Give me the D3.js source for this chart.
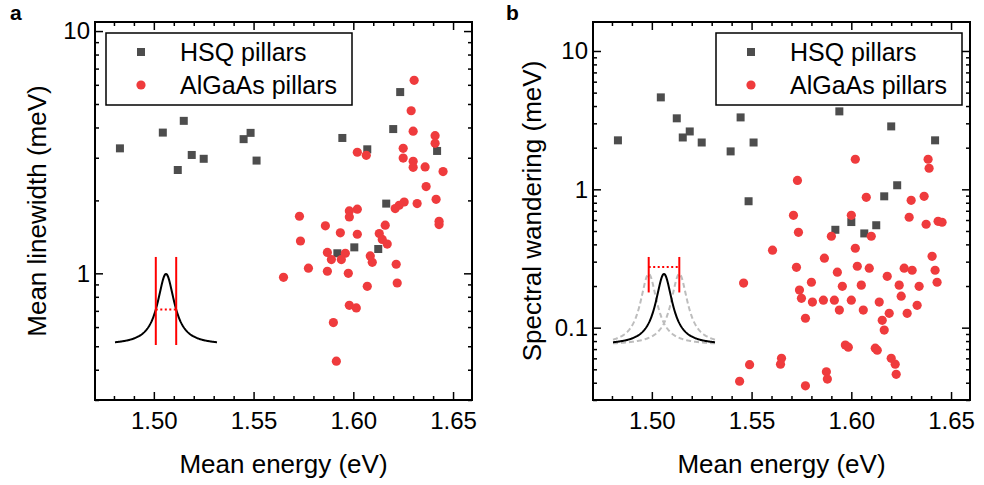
<!DOCTYPE html>
<html>
<head>
<meta charset="utf-8">
<script src="https://cdn.jsdelivr.net/npm/d3@7"></script>
<style>
  body { margin: 0; background: #fff; }
  svg text { font-family: "Liberation Sans", Arial, sans-serif; }
</style>
</head>
<body>
<div id="chart"></div>
<script>
// panel a : mean linewidth (meV) vs mean energy (eV)
var hsqEnergyA = [1.483, 1.5045, 1.512, 1.515, 1.519, 1.525, 1.545, 1.5485, 1.5515, 1.592, 1.5945, 1.6005,
    1.607, 1.6125, 1.6165, 1.620, 1.6235, 1.642];
var hsqLinewidth = [3.28, 3.81, 2.67, 4.26, 3.08, 2.97, 3.58, 3.80, 2.92, 1.21, 3.62, 1.28,
    3.25, 1.26, 1.94, 3.94, 5.60, 3.20];

var algaasEnergyA = [1.6305, 1.629, 1.630, 1.641, 1.641, 1.625, 1.602, 1.6065, 1.625, 1.630, 1.630, 1.636,
    1.645, 1.6365, 1.6415, 1.6255, 1.632, 1.623, 1.621, 1.602, 1.598, 1.598, 1.573, 1.586, 1.616,
    1.643, 1.643, 1.5935, 1.602, 1.613, 1.6145, 1.617, 1.5735, 1.587, 1.596, 1.589, 1.594, 1.6085,
    1.6095, 1.5775, 1.587, 1.5975, 1.6215, 1.565, 1.607, 1.622, 1.598, 1.6015, 1.590, 1.5915];
var algaasLinewidth = [6.26, 4.69, 3.86, 3.70, 3.44, 3.28, 3.16, 3.07, 2.99, 2.90, 2.74, 2.75,
    2.63, 2.28, 2.02, 1.97, 1.94, 1.91, 1.85, 1.84, 1.81, 1.71, 1.72, 1.57, 1.58,
    1.64, 1.59, 1.47, 1.45, 1.46, 1.38, 1.32, 1.36, 1.22, 1.21, 1.14, 1.14, 1.18,
    1.11, 1.05, 1.02, 1.00, 1.09, 0.963, 0.884, 0.912, 0.738, 0.720, 0.626, 0.434];

// panel b : spectral wandering (meV) vs mean energy (eV)
var hsqEnergyB = [1.483, 1.5045, 1.5125, 1.5155, 1.519, 1.525, 1.5395, 1.5445, 1.551, 1.5485,
    1.594, 1.592, 1.600, 1.6065, 1.6125, 1.6165, 1.620, 1.623, 1.642];
var hsqWandering = [2.26, 4.62, 3.26, 2.37, 2.62, 2.18, 1.88, 3.31, 2.18, 0.82,
    3.66, 0.51, 0.58, 0.48, 0.55, 0.89, 2.85, 1.07, 2.26];

var algaasEnergyB = [1.546, 1.544, 1.549, 1.5605, 1.565, 1.5645, 1.571, 1.573, 1.5735, 1.5725,
    1.574, 1.575, 1.577, 1.577, 1.580, 1.5805, 1.5865, 1.586, 1.5875, 1.588,
    1.590, 1.5915, 1.593, 1.594, 1.5955, 1.597, 1.5985, 1.600, 1.600, 1.602,
    1.602, 1.603, 1.605, 1.606, 1.6075, 1.609, 1.610, 1.612, 1.613, 1.614,
    1.6155, 1.6165, 1.618, 1.619, 1.620, 1.622, 1.6225, 1.624, 1.625, 1.6265,
    1.628, 1.629, 1.630, 1.6305, 1.633, 1.634, 1.6365, 1.6375, 1.6385, 1.639,
    1.6405, 1.642, 1.643, 1.6435, 1.6455];
var algaasWandering = [0.21, 0.041, 0.054, 0.363, 0.060, 0.0545, 0.649, 1.16, 0.489, 0.273,
    0.187, 0.163, 0.117, 0.038, 0.213, 0.153, 0.318, 0.158, 0.048, 0.0425,
    0.458, 0.158, 0.252, 0.134, 0.199, 0.0748, 0.0723, 0.158, 0.649, 1.65,
    0.375, 0.278, 0.203, 0.134, 0.875, 0.269, 0.458, 0.0711, 0.0688, 0.153,
    0.113, 0.096, 0.235, 0.127, 0.060, 0.0545, 0.046, 0.203, 0.169, 0.269,
    0.127, 0.628, 0.833, 0.260, 0.145, 0.199, 0.890, 0.559, 1.65, 1.42,
    0.328, 0.260, 0.213, 0.587, 0.578];

var energyTicks = [1.50, 1.55, 1.60, 1.65];
var linewidthTicks = [1, 10];
var wanderingTicks = [0.1, 1, 10];
var legendLabels = ["HSQ pillars", "AlGaAs pillars"];

var HSQ_COLOR = "#4d4d4d",
    ALGAAS_COLOR = "#ef3b3d",
    FONT_TICK = 24,
    FONT_TITLE = 26;

var svg = d3.select("#chart").append("svg")
    .attr("width", 984)
    .attr("height", 485);

var top_ = 22, bottom = 400, panelWidth = 377;

// minor ticks of a log axis : 2..9 x 10^k inside the domain
function logMinor(domain, majors) {
    var out = [];
    for (var k = -3; k <= 2; k++) {
        for (var m = 2; m <= 9; m++) {
            var v = m * Math.pow(10, k);
            if (v >= domain[0] && v <= domain[1] && majors.indexOf(v) < 0) out.push(v);
        }
    }
    return out;
}

function styleAxis(sel) {
    sel.select(".domain").remove();
    sel.selectAll(".tick line").attr("stroke", "#000").attr("stroke-width", 1.5);
    sel.selectAll(".tick text").attr("fill", "#000");
    sel.attr("font-size", FONT_TICK).attr("font-family", "Liberation Sans, Arial, sans-serif");
}

function drawPanel(p) {
    var g = svg.append("g");
    var right = p.left + panelWidth;

    var x = d3.scaleLinear()
        .domain([1.4705, 1.6595])
        .range([p.left, right]);
    var y = d3.scaleLog()
        .domain(p.yDomain)
        .range([bottom, top_]);

    var minorX = d3.range(147, 166).map(function (d) { return d / 100; })
        .filter(function (d) { return d >= x.domain()[0] && energyTicks.indexOf(d) < 0; });
    var minorY = logMinor(p.yDomain, p.yTicks);

    // bottom / top
    g.append("g").attr("transform", "translate(0," + bottom + ")")
        .call(d3.axisBottom(x).tickValues(energyTicks).tickSize(-8).tickPadding(12).tickFormat(d3.format(".2f")))
        .call(styleAxis);
    g.append("g").attr("transform", "translate(0," + bottom + ")")
        .call(d3.axisBottom(x).tickValues(minorX).tickSize(-4).tickFormat(""))
        .call(styleAxis);
    g.append("g").attr("transform", "translate(0," + top_ + ")")
        .call(d3.axisTop(x).tickValues(energyTicks).tickSize(-8).tickFormat(""))
        .call(styleAxis);
    g.append("g").attr("transform", "translate(0," + top_ + ")")
        .call(d3.axisTop(x).tickValues(minorX).tickSize(-4).tickFormat(""))
        .call(styleAxis);

    // left / right
    g.append("g").attr("transform", "translate(" + p.left + ",0)")
        .call(d3.axisLeft(y).tickValues(p.yTicks).tickSize(-8).tickPadding(5).tickFormat(d3.format("")))
        .call(styleAxis);
    g.append("g").attr("transform", "translate(" + p.left + ",0)")
        .call(d3.axisLeft(y).tickValues(minorY).tickSize(-4).tickFormat(""))
        .call(styleAxis);
    g.append("g").attr("transform", "translate(" + right + ",0)")
        .call(d3.axisRight(y).tickValues(p.yTicks).tickSize(-8).tickFormat(""))
        .call(styleAxis);
    g.append("g").attr("transform", "translate(" + right + ",0)")
        .call(d3.axisRight(y).tickValues(minorY).tickSize(-4).tickFormat(""))
        .call(styleAxis);

    // frame
    g.append("rect")
        .attr("x", p.left)
        .attr("y", top_)
        .attr("width", panelWidth)
        .attr("height", bottom - top_)
        .attr("fill", "none")
        .attr("stroke", "#000")
        .attr("stroke-width", 2);

    // titles
    g.append("text")
        .attr("x", (p.left + right) / 2)
        .attr("y", 473)
        .attr("text-anchor", "middle")
        .attr("font-size", FONT_TITLE)
        .text("Mean energy (eV)");
    g.append("text")
        .attr("transform", "translate(" + p.titleX + "," + (top_ + bottom) / 2 + ")rotate(-90)")
        .attr("text-anchor", "middle")
        .attr("font-size", FONT_TITLE)
        .text(p.yTitle);
    g.append("text")
        .attr("x", p.letterX)
        .attr("y", 20)
        .attr("font-size", 21)
        .attr("font-weight", "bold")
        .text(p.letter);

    // inset schematic
    drawInset(g, p.insetX, p.wander);

    // data
    g.append("g").selectAll("rect")
        .data(d3.zip(p.hsqE, p.hsqV))
        .enter().append("rect")
        .attr("x", function (d) { return x(d[0]) - 4; })
        .attr("y", function (d) { return y(d[1]) - 4; })
        .attr("width", 8)
        .attr("height", 8)
        .attr("fill", HSQ_COLOR);
    g.append("g").selectAll("circle")
        .data(d3.zip(p.algE, p.algV))
        .enter().append("circle")
        .attr("cx", function (d) { return x(d[0]); })
        .attr("cy", function (d) { return y(d[1]); })
        .attr("r", 4.6)
        .attr("fill", ALGAAS_COLOR);

    // legend
    var lx = p.legendX, ly = 33;
    var lg = g.append("g");
    lg.append("rect")
        .attr("x", lx).attr("y", ly)
        .attr("width", 246).attr("height", 72)
        .attr("fill", "#fff")
        .attr("stroke", "#000")
        .attr("stroke-width", 1.5);
    lg.append("rect")
        .attr("x", lx + 31).attr("y", ly + 15)
        .attr("width", 8).attr("height", 8)
        .attr("fill", HSQ_COLOR);
    lg.append("circle")
        .attr("cx", lx + 35).attr("cy", ly + 52)
        .attr("r", 4.6)
        .attr("fill", ALGAAS_COLOR);
    lg.selectAll("text")
        .data(legendLabels)
        .enter().append("text")
        .attr("x", lx + 74)
        .attr("y", function (d, i) { return ly + 19 + i * 33; })
        .attr("dy", "0.35em")
        .attr("font-size", 25)
        .text(function (d) { return d; });
}

// Lorentzian line shape used only for the schematic insets
function lorentz(u) { return 1 / (1 + u * u); }

function drawInset(g, x0, wander) {
    var xi = d3.scaleLinear().domain([-5, 5]).range([x0, x0 + 102]);
    var yi = d3.scaleLinear().domain([0, 1]).range([345, 274]);
    var us = d3.range(-5, 5.001, 0.05);
    var line = d3.line()
        .x(function (d) { return xi(d[0]); })
        .y(function (d) { return yi(d[1]); });

    if (wander) {
        [-1.5, 1.5].forEach(function (c) {
            g.append("path")
                .attr("d", line(us.map(function (u) { return [u, lorentz(u - c)]; })))
                .attr("fill", "none")
                .attr("stroke", "#bdbdbd")
                .attr("stroke-width", 2)
                .attr("stroke-dasharray", "5,3");
        });
    }
    g.append("path")
        .attr("d", line(us.map(function (u) { return [u, lorentz(u)]; })))
        .attr("fill", "none")
        .attr("stroke", "#000")
        .attr("stroke-width", 2);

    var c = wander ? 1.5 : 1;
    var y1 = yi(1.24), y2 = wander ? yi(0.74) : yi(0),
        yd = wander ? yi(1.1) : yi(0.5);
    [-c, c].forEach(function (u) {
        g.append("line")
            .attr("x1", xi(u)).attr("x2", xi(u))
            .attr("y1", y1).attr("y2", y2)
            .attr("stroke", "#ff0000")
            .attr("stroke-width", 2);
    });
    g.append("line")
        .attr("x1", xi(-c)).attr("x2", xi(c))
        .attr("y1", yd).attr("y2", yd)
        .attr("stroke", "#ff0000")
        .attr("stroke-width", 2)
        .attr("stroke-dasharray", "2,2.5");
}

drawPanel({
    left: 95, letter: "a", letterX: 10, titleX: 46, legendX: 106, insetX: 115, wander: false,
    yDomain: [0.3, 10.9], yTicks: linewidthTicks, yTitle: "Mean linewidth (meV)",
    hsqE: hsqEnergyA, hsqV: hsqLinewidth, algE: algaasEnergyA, algV: algaasLinewidth
});
drawPanel({
    left: 593, letter: "b", letterX: 506, titleX: 541, legendX: 716, insetX: 613, wander: true,
    yDomain: [0.03, 16.2], yTicks: wanderingTicks, yTitle: "Spectral wandering (meV)",
    hsqE: hsqEnergyB, hsqV: hsqWandering, algE: algaasEnergyB, algV: algaasWandering
});
</script>
</body>
</html>
